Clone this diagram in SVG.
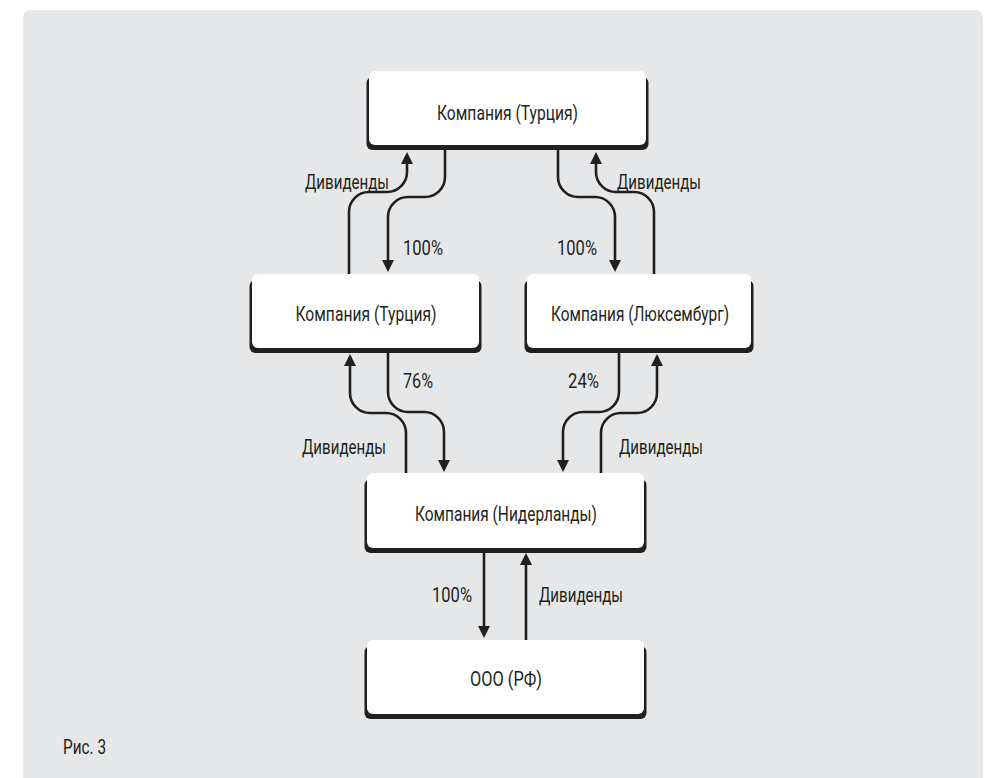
<svg xmlns="http://www.w3.org/2000/svg" width="987" height="778" viewBox="0 0 987 778">
  <defs>
    <style>
      .panel { fill: #e6e7e8; }
      .box { fill: #ffffff; }
      .shadow { fill: #231f20; }
      .t { font-family: "Liberation Sans Narrow", Roboto, "Liberation Sans", sans-serif; font-size: 21px; fill: #231f20; }
      .c { text-anchor: middle; }
      .wire { fill: none; stroke: #231f20; stroke-width: 2.6; marker-end: url(#arrow); }
    </style>
    <marker id="arrow" viewBox="0 0 12 12" refX="9" refY="6" markerWidth="12" markerHeight="12" markerUnits="userSpaceOnUse" orient="auto">
      <path d="M0,0 L12,6 L0,12 z" fill="#231f20"/>
    </marker>
  </defs>

  <rect class="panel" x="23" y="10" width="960" height="790" rx="8"/>

  <g id="connectors">
    <path class="wire" d="M349,274 V212 A20,20 0 0 1 369,192 H387 A20,20 0 0 0 407,172 V155"/>
    <path class="wire" d="M445,150 V177 A20,20 0 0 1 425,197 H408 A20,20 0 0 0 388,217 V269"/>
    <path class="wire" d="M558,150 V177 A20,20 0 0 0 578,197 H595 A20,20 0 0 1 615,217 V269"/>
    <path class="wire" d="M654,274 V212 A20,20 0 0 0 634,192 H616 A20,20 0 0 1 596,172 V155"/>
    <path class="wire" d="M406,473 V433 A20,20 0 0 0 386,413 H370 A20,20 0 0 1 350,393 V357"/>
    <path class="wire" d="M388,351 V392 A20,20 0 0 0 408,412 H424 A20,20 0 0 1 444,432 V469"/>
    <path class="wire" d="M619,351 V392 A20,20 0 0 1 599,412 H583 A20,20 0 0 0 563,432 V469"/>
    <path class="wire" d="M601,473 V433 A20,20 0 0 1 621,413 H637 A20,20 0 0 0 657,393 V357"/>
    <path class="wire" d="M484,551 V635"/>
    <path class="wire" d="M526,640 V556"/>
    <text class="t" x="305" y="189" textLength="84" lengthAdjust="spacingAndGlyphs">Дивиденды</text>
    <text class="t" x="403" y="255" textLength="40" lengthAdjust="spacingAndGlyphs">100%</text>
    <text class="t" x="557" y="255" textLength="40" lengthAdjust="spacingAndGlyphs">100%</text>
    <text class="t" x="617" y="189" textLength="84" lengthAdjust="spacingAndGlyphs">Дивиденды</text>
    <text class="t" x="403" y="388" textLength="30" lengthAdjust="spacingAndGlyphs">76%</text>
    <text class="t" x="568" y="388" textLength="31" lengthAdjust="spacingAndGlyphs">24%</text>
    <text class="t" x="302" y="454" textLength="84" lengthAdjust="spacingAndGlyphs">Дивиденды</text>
    <text class="t" x="619" y="454" textLength="84" lengthAdjust="spacingAndGlyphs">Дивиденды</text>
    <text class="t" x="432" y="602" textLength="40" lengthAdjust="spacingAndGlyphs">100%</text>
    <text class="t" x="539" y="602" textLength="84" lengthAdjust="spacingAndGlyphs">Дивиденды</text>
  </g>

  <g id="node-turkey-top">
    <rect class="shadow" x="366.5" y="77" width="282" height="73" rx="6"/>
    <rect class="box" x="369" y="71" width="277" height="74" rx="6"/>
    <text class="t c" x="507.5" y="120" textLength="141" lengthAdjust="spacingAndGlyphs">Компания (Турция)</text>
  </g>

  <g id="node-turkey-mid">
    <rect class="shadow" x="249.5" y="280" width="232" height="73" rx="6"/>
    <rect class="box" x="252" y="274" width="227" height="74" rx="6"/>
    <text class="t c" x="366" y="321" textLength="141" lengthAdjust="spacingAndGlyphs">Компания (Турция)</text>
  </g>

  <g id="node-luxembourg">
    <rect class="shadow" x="524.5" y="280" width="229" height="73" rx="6"/>
    <rect class="box" x="527" y="274" width="224" height="74" rx="6"/>
    <text class="t c" x="640" y="321" textLength="178" lengthAdjust="spacingAndGlyphs">Компания (Люксембург)</text>
  </g>

  <g id="node-netherlands">
    <rect class="shadow" x="364.5" y="479" width="282" height="74" rx="6"/>
    <rect class="box" x="367" y="473" width="277" height="75" rx="6"/>
    <text class="t c" x="506" y="521" textLength="182" lengthAdjust="spacingAndGlyphs">Компания (Нидерланды)</text>
  </g>

  <g id="node-ooo">
    <rect class="shadow" x="364.5" y="646" width="282" height="73" rx="6"/>
    <rect class="box" x="367" y="640" width="277" height="74" rx="6"/>
    <text class="t c" x="506" y="686" textLength="72" lengthAdjust="spacingAndGlyphs">ООО (РФ)</text>
  </g>

  <text class="t" x="63" y="754" style="font-size:20px" textLength="43" lengthAdjust="spacingAndGlyphs">Рис. 3</text>
</svg>
